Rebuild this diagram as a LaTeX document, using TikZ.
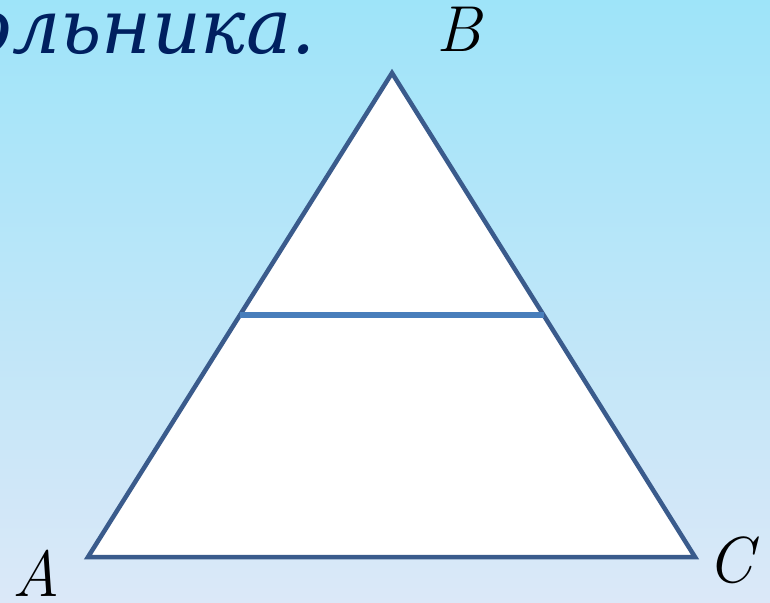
\documentclass[tikz,border=0pt]{standalone}
\usepackage{fontspec}
\newfontfamily\titlefont{DejaVu Serif}[ItalicFont={DejaVu Serif Italic}]
\usepackage{xcolor}
\usetikzlibrary{calc}
\definecolor{skytop}{RGB}{158,228,249}
\definecolor{skybottom}{RGB}{219,232,248}
\definecolor{edgeblue}{RGB}{58,91,140}
\definecolor{midblue}{RGB}{72,126,187}
\definecolor{titlenavy}{RGB}{0,32,96}
\tikzset{
    vertexlabel/.style={inner sep=0pt, anchor=base, font=\fontsize{65}{65}\selectfont\itshape},
}
\begin{document}
\begin{tikzpicture}[x=1pt,y=-1pt]
        \useasboundingbox (0,0) rectangle (770,602);
        \clip (0,0) rectangle (770,602);
        \shade[top color=skytop, bottom color=skybottom] (0,0) rectangle (770,602);
        \node[inner sep=0pt, anchor=base east, text=titlenavy, font=\titlefont\fontsize{76}{76}\selectfont\itshape] (title) at (316,53) {ольника.};
        \coordinate (A) at (88,557);
        \coordinate (B) at (392,73);
        \coordinate (C) at (695,557);
        \coordinate (M) at ($(A)!0.5!(B)$);
        \coordinate (N) at ($(C)!0.5!(B)$);
            \draw[line width=4.5pt, edgeblue, fill=white, line join=miter] (A)--(B)--(C)--cycle;
            \draw[line width=6.5pt, midblue] (M)--(N);
            \node[vertexlabel] (labA) at (36,596) {A};
            \node[vertexlabel] (labB) at (459,52) {B};
            \node[vertexlabel] (labC) at (730,582) {C};
        \end{tikzpicture}
\end{document}
